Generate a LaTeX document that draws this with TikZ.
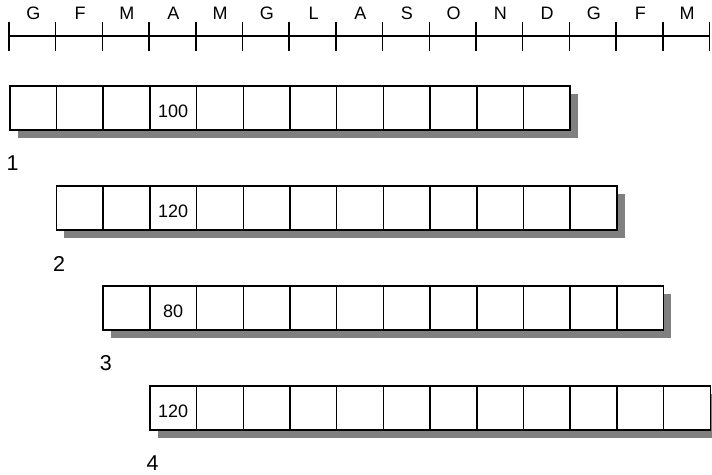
\documentclass[tikz,border=0pt]{standalone}
\usepackage{fontspec}
\setmainfont{Liberation Sans}
\usepackage{tikz}

\begin{document}
\begin{tikzpicture}[
    x=1pt, y=-1pt,
    line width=1.5pt,
    cell/.style={draw=black, fill=white, minimum width=46.7pt,
        minimum height=44pt, inner sep=0pt, anchor=north west},
    shade/.style={fill=black!50, draw=none},
    month/.style={font=\fontsize{18}{18}\selectfont},
    value/.style={font=\fontsize{18}{18}\selectfont},
    rowlbl/.style={font=\fontsize{21.5}{21.5}\selectfont}
]
\useasboundingbox (0,0) rectangle (712,474);

% Time axis
\foreach \i in {0,...,15}
    \coordinate (t\i) at ({9+\i*46.7},36);
\draw (t0) -- (t15);
\foreach \i in {0,...,15}
    \draw ([yshift=14.5pt]t\i) -- ([yshift=-14.5pt]t\i);

% Months
\foreach \m [count=\i] in {G,F,M,A,M,G,L,A,S,O,N,D,G,F,M}
    \node[month] (m\i) at ({10+(\i-0.5)*46.7},13.5) {\m};

% Rows of cells
\foreach \r/\val in {1/100,2/120,3/80,4/120} {
    \pgfmathsetmacro\xs{9+(\r-1)*46.7}
    \pgfmathsetmacro\ys{85+(\r-1)*100}
    \pgfmathtruncatemacro\vc{5-\r}
    \fill[shade] ({\xs+8.5},{\ys+8.5}) rectangle ++(12*46.7,44);
    \foreach \c in {1,...,12}
        \node[cell] (r\r-\c) at ({\xs+(\c-1)*46.7},\ys) {};
    \node[value] (v\r) at ([yshift=-4pt]r\r-\vc.center) {\val};
    \node[rowlbl] (l\r) at ([xshift=3.5pt,yshift=-33pt]r\r-1.south west) {\r};
}

\end{tikzpicture}
\end{document}
